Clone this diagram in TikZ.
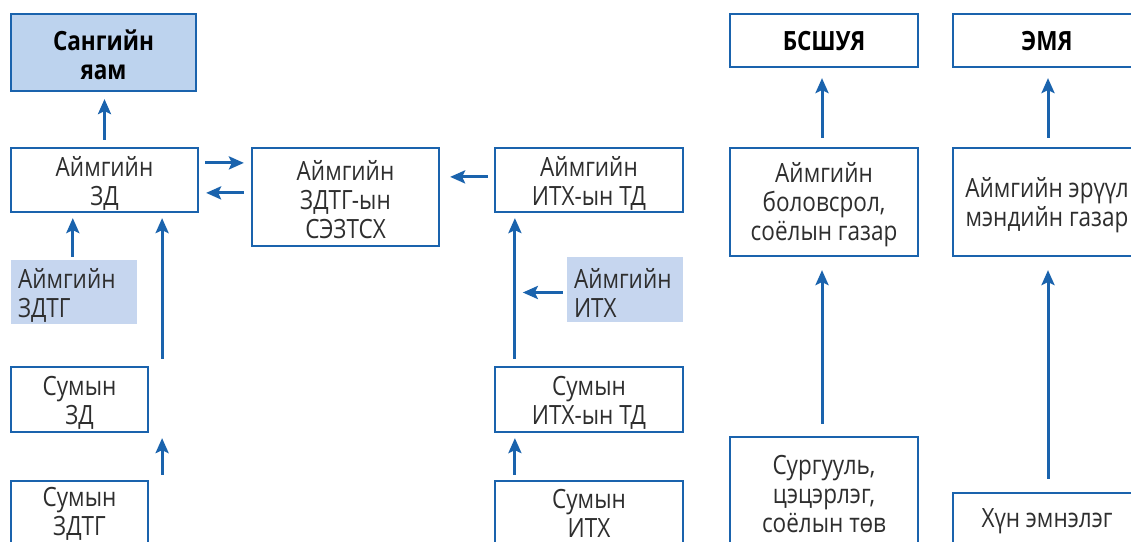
\documentclass[tikz,border=0pt]{standalone}
\usepackage{fontspec}
\setmainfont{Open Sans}[FakeStretch=0.85]
\usetikzlibrary{arrows.meta,calc}
\definecolor{bl}{HTML}{1A63AD}
\definecolor{lb}{HTML}{BDD3EE}
\definecolor{lb2}{HTML}{C6D6EF}
\tikzset{
  txt/.style={font=\fontsize{26.5}{29}\selectfont, text=black!82, inner sep=0pt, align=center},
  htxt/.style={font=\fontsize{26.5}{29}\selectfont\bfseries, text=black, inner sep=0pt, align=center},
  ltxt/.style={txt, align=left, anchor=west},
  bx/.style={draw=bl, line width=2.2pt, fill=white, inner sep=0pt},
  fb/.style={fill=lb2, inner sep=0pt},
  ar/.style={draw=bl, line width=3pt, -{Stealth[length=15pt,width=13pt,inset=3pt]}},
}
\begin{document}
\begin{tikzpicture}[x=1pt,y=-1pt]
\useasboundingbox (0,0) rectangle (1131,541);
\clip (0,0) rectangle (1131,541);
% boxes
\node[bx, fill=lb, minimum width=185pt, minimum height=77pt] (sy) at (103.5,52.5) {};
\node[bx, minimum width=187pt, minimum height=64pt] (azd) at (104.5,180) {};
\node[bx, minimum width=187pt, minimum height=98pt] (sez) at (345.5,197) {};
\node[bx, minimum width=188pt, minimum height=64pt] (aitd) at (589,180) {};
\node[fb, minimum width=116pt, minimum height=65pt] (aith) at (625,289.5) {};
\node[fb, minimum width=126pt, minimum height=64pt] (azdtg) at (74,292) {};
\node[bx, minimum width=137pt, minimum height=65pt] (szd) at (79.5,399.5) {};
\node[bx, minimum width=137pt, minimum height=65pt] (szdtg) at (79.5,513.5) {};
\node[bx, minimum width=188pt, minimum height=65pt] (sitd) at (589,399.5) {};
\node[bx, minimum width=188pt, minimum height=65pt] (sith) at (589,513.5) {};
\node[bx, minimum width=188pt, minimum height=53pt] (bsh) at (824,40.5) {};
\node[bx, minimum width=188pt, minimum height=108pt] (abs) at (824,202) {};
\node[bx, minimum width=188pt, minimum height=110pt] (sur) at (824,492) {};
\node[bx, minimum width=188pt, minimum height=53pt] (emy) at (1047,40.5) {};
\node[bx, minimum width=188pt, minimum height=108pt] (aem) at (1047,202) {};
\node[bx, minimum width=188pt, minimum height=56pt] (hun) at (1047,521) {};
% texts
\node[htxt] (sy-t) at ([yshift=-2pt]sy.center) {Сангийн\\яам};
\node[txt] (azd-t) at ([yshift=-3pt]azd.center) {Аймгийн\\ЗД};
\node[txt] (sez-t) at ([yshift=-3pt]sez.center) {Аймгийн\\ЗДТГ-ын\\СЭЗТСХ};
\node[txt] (aitd-t) at ([yshift=-3pt]aitd.center) {Аймгийн\\ИТХ-ын ТД};
\node[ltxt] (aith-t) at ([xshift=7pt,yshift=-3pt]aith.west) {Аймгийн\\ИТХ};
\node[ltxt] (azdtg-t) at ([xshift=7pt,yshift=-3pt]azdtg.west) {Аймгийн\\ЗДТГ};
\node[txt] (szd-t) at ([yshift=-3pt]szd.center) {Сумын\\ЗД};
\node[txt] (szdtg-t) at ([yshift=0pt]szdtg.center) {Сумын\\ЗДТГ};
\node[txt] (sitd-t) at ([yshift=-3pt]sitd.center) {Сумын\\ИТХ-ын ТД};
\node[txt] (sith-t) at ([yshift=0pt]sith.center) {Сумын\\ИТХ};
\node[htxt] (bsh-t) at ([yshift=-1pt]bsh.center) {БСШУЯ};
\node[txt] (abs-t) at ([yshift=-3pt]abs.center) {Аймгийн\\боловсрол,\\соёлын газар};
\node[txt] (sur-t) at ([yshift=-2pt]sur.center) {Сургууль,\\цэцэрлэг,\\соёлын төв};
\node[htxt] (emy-t) at ([yshift=-1pt]emy.center) {ЭМЯ};
\node[txt] (aem-t) at ([yshift=-3pt]aem.center) {Аймгийн эрүүл\\мэндийн газар};
\node[txt] (hun-t) at ([yshift=0pt]hun.center) {Хүн эмнэлэг};
% arrows
\draw[ar] ($(azd.north)+(0,-7)$) coordinate (v0) -- ($(v0 |- sy.south)+(0,7)$);
\draw[ar] ($(azd.north east)+(6,16)$) -- ($(sez.north west)+(-7,16)$);
\draw[ar] ($(sez.north west)+(-7,46)$) -- ($(azd.north east)+(7,46)$);
\draw[ar] ($(aitd.north west)+(-6,30)$) -- ($(sez.north east)+(10,30)$);
\draw[ar] ($(sitd.north west)+(21,-7)$) coordinate (v1) -- ($(v1 |- aitd.south)+(0,5)$);
\coordinate (v2) at ($(aith.west)+(-44,3)$);
\draw[ar] ($(aith.west)+(-4,3)$) -- (v2);
\draw[ar] ($(azdtg.north west)+(62,-3)$) coordinate (v3) -- ($(v3 |- azd.south)+(0,5)$);
\draw[ar] ($(szd.north east)+(13,-7)$) coordinate (v4) -- ($(v4 |- azd.south)+(0,5)$);
\draw[ar] ($(szdtg.north east)+(13,-5)$) coordinate (v5) -- ($(v5 |- szd.south)+(0,5)$);
\draw[ar] ($(sith.north west)+(21,-5)$) coordinate (v6) -- ($(v6 |- sitd.south)+(0,5)$);
\draw[ar] ($(abs.north)+(-2,-9)$) coordinate (v7) -- ($(v7 |- bsh.south)+(0,10)$);
\draw[ar] ($(sur.north)+(-2,-12)$) coordinate (v8) -- ($(v8 |- abs.south)+(0,13)$);
\draw[ar] ($(aem.north)+(1,-9)$) coordinate (v9) -- ($(v9 |- emy.south)+(0,10)$);
\draw[ar] ($(hun.north)+(1,-13)$) coordinate (v10) -- ($(v10 |- aem.south)+(0,13)$);
\end{tikzpicture}
\end{document}
